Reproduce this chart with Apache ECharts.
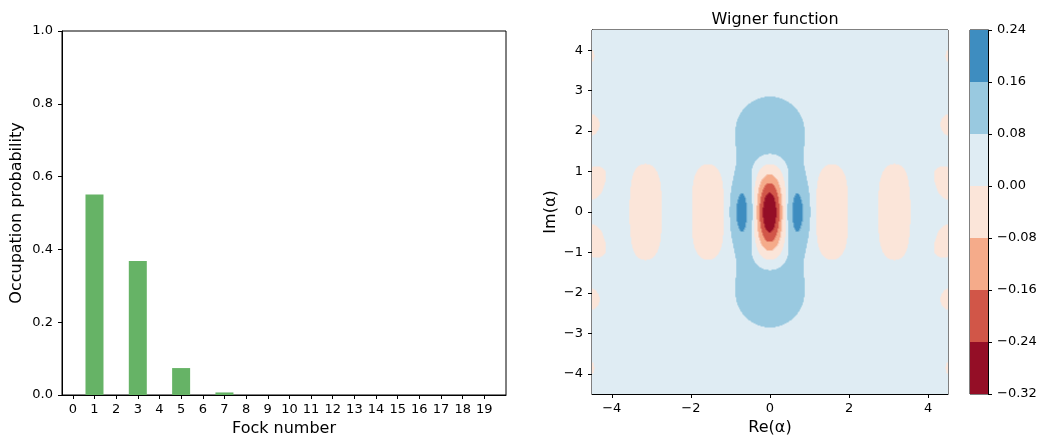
<!DOCTYPE html>
<html><head><meta charset="utf-8">
<script src="https://cdn.jsdelivr.net/npm/echarts@6/dist/echarts.min.js"></script>
<style>html,body{margin:0;padding:0;background:#fff}#c{width:1040px;height:436px}</style>
</head><body><div id="c"></div>
<script>
// ---------------- data ----------------
const fockNumbers = [0,1,2,3,4,5,6,7,8,9,10,11,12,13,14,15,16,17,18,19];
const occupation  = [0,0.551,0,0.368,0,0.074,0,0.007,0,0,0,0,0,0,0,0,0,0,0,0];
const probTicks   = [0,0.2,0.4,0.6,0.8,1.0];
const reTicks     = [-4,-2,0,2,4];
const imTicks     = [-4,-3,-2,-1,0,1,2,3,4];
const contourLevels = [-0.32,-0.24,-0.16,-0.08,0,0.08,0.16,0.24];
// state behind the Wigner plot: odd cat state, alpha = i*1.414, Hilbert space of 20 Fock levels
const hilbertDim = 20;
const catAlphaIm = 1.414;
const phaseRange = [-4.5, 4.5];

// ---------------- styles ----------------
const levelColors = ['#940e26','#d15648','#f5ab8a','#fbe5d9','#dfecf3','#99c9e0','#3e8dc0'];
const barColor = '#66b366';
const FONT = 'DejaVu Sans';

// ---------------- Wigner function of the state ----------------
function jacobiEigen(A){
  const n=A.length, a=A.map(r=>r.slice());
  const V=Array.from({length:n},(_,i)=>Array.from({length:n},(_,j)=>i===j?1:0));
  for(let sweep=0;sweep<80;sweep++){
    let off=0; for(let p=0;p<n;p++)for(let q=p+1;q<n;q++)off+=a[p][q]*a[p][q];
    if(off<1e-30)break;
    for(let p=0;p<n-1;p++)for(let q=p+1;q<n;q++){
      const apq=a[p][q]; if(Math.abs(apq)<1e-300)continue;
      const th=(a[q][q]-a[p][p])/(2*apq);
      const t=(th>=0?1:-1)/(Math.abs(th)+Math.sqrt(th*th+1));
      const c=1/Math.sqrt(t*t+1), s=t*c;
      for(let k=0;k<n;k++){const x=a[k][p],y=a[k][q];a[k][p]=c*x-s*y;a[k][q]=s*x+c*y;}
      for(let k=0;k<n;k++){const x=a[p][k],y=a[q][k];a[p][k]=c*x-s*y;a[q][k]=s*x+c*y;}
      for(let k=0;k<n;k++){const x=V[k][p],y=V[k][q];V[k][p]=c*x-s*y;V[k][q]=s*x+c*y;}
    }
  }
  return {values:a.map((r,i)=>r[i]),vectors:V};
}
const N=hilbertDim;
const Xop=Array.from({length:N},()=>new Array(N).fill(0));
for(let k=1;k<N;k++){Xop[k-1][k]=Math.sqrt(k);Xop[k][k-1]=Math.sqrt(k);}
const eig=jacobiEigen(Xop);
const amp=new Array(N).fill(0);
for(let n=0;n<N;n++)for(let k=0;k<N;k++)amp[n]+=eig.vectors[n][k]*eig.vectors[0][k]*Math.sin(catAlphaIm*eig.values[k]);
const nrm=Math.sqrt(amp.reduce((s,v)=>s+v*v,0));
for(let n=0;n<N;n++)amp[n]/=nrm;
const fact=[1];for(let i=1;i<=N;i++)fact[i]=fact[i-1]*i;
const coef=[];
for(let k=0;k<N;k++){coef[k]=[];for(let m=0;m+k<N;m++){const n=m+k;
  coef[k][m]=amp[m]*amp[n]*(m%2?-1:1)*Math.sqrt(fact[m]/fact[n])*(k?2:1);}}
function wigner(x,p){
  const ax=Math.SQRT2*x, ay=Math.SQRT2*p, B=2*(x*x+p*p);
  let zr=1,zi=0,s=0;
  for(let k=0;k<N;k++){
    const row=coef[k],M=N-k;
    let Lp=1,Lc=1+k-B,acc=row[0];
    if(M>1)acc+=row[1]*Lc;
    for(let m=1;m<M-1;m++){const Ln=((2*m+1+k-B)*Lc-(m+k)*Lp)/(m+1);Lp=Lc;Lc=Ln;acc+=row[m+1]*Ln;}
    s+=acc*zr;
    const nr=zr*ax-zi*ay; zi=zr*ay+zi*ax; zr=nr;
  }
  return s*Math.exp(-(x*x+p*p))/Math.PI;
}
function bandOf(w){
  for(let i=0;i<contourLevels.length-2;i++) if(w<=contourLevels[i+1]) return i;
  return contourLevels.length-2;
}
const BG=4, nx=356, ny=364;
const [pmin,pmax]=phaseRange, dx=(pmax-pmin)/nx, dy=(pmax-pmin)/ny;
const cells=[[pmin,pmax,pmin,pmax,BG,0]];
for(let j=0;j<ny;j++){
  const p=pmin+(j+0.5)*dy;
  let cur=-1,start=0;
  for(let i=0;i<=nx;i++){
    const b=i<nx?bandOf(wigner(pmin+(i+0.5)*dx,p)):-2;
    if(b!==cur){
      if(cur>=0&&cur!==BG)cells.push([pmin+start*dx,pmin+i*dx,p-dy/2,p+dy/2,cur,1]);
      cur=b;start=i;
    }
  }
}
const barCells=[];
for(let i=0;i<contourLevels.length-1;i++)barCells.push([contourLevels[i],contourLevels[i+1],i]);

// ---------------- chart ----------------
const minus=v=>{const r=Math.round(v*100)/100;return r<0?'\u2212'+Math.abs(r):String(r);};
const minus2=v=>{const r=Math.round(v*100)/100;return r<0?'\u2212'+Math.abs(r).toFixed(2):r.toFixed(2);};
const axisCommon={
  axisLine:{show:true,onZero:false,lineStyle:{color:'#000',width:1}},
  axisTick:{show:true,length:4,lineStyle:{color:'#000',width:1}},
  axisLabel:{color:'#000',fontSize:13,fontFamily:FONT,margin:8},
  splitLine:{show:false},
  nameTextStyle:{color:'#000',fontSize:16,fontFamily:FONT},
  nameLocation:'middle'
};
function ax(o){return Object.assign({},axisCommon,o,{
  axisTick:Object.assign({},axisCommon.axisTick,o.axisTick||{}),
  axisLabel:Object.assign({},axisCommon.axisLabel,o.axisLabel||{})});}
const gridCommon={show:true,borderColor:'#000',borderWidth:1,backgroundColor:'transparent',
  containLabel:false,outerBoundsMode:'none'};

const chart=echarts.init(document.getElementById('c'),null,{renderer:'canvas'});
chart.setOption({
  animation:false,
  backgroundColor:'#fff',
  title:{text:'Wigner function',left:770,top:7,textAlign:'center',
    textStyle:{color:'#000',fontSize:16,fontWeight:'normal',fontFamily:FONT}},
  grid:[
    Object.assign({left:62,top:31,width:444,height:364},gridCommon),
    Object.assign({left:592,top:30,width:356,height:364},gridCommon),
    Object.assign({left:970,top:30,width:18,height:364},gridCommon)
  ],
  xAxis:[
    ax({gridIndex:0,type:'value',min:-0.5,max:20,name:'Fock number',nameGap:25,
      axisTick:{customValues:fockNumbers},axisLabel:{customValues:fockNumbers}}),
    ax({gridIndex:1,type:'value',min:phaseRange[0],max:phaseRange[1],name:'Re(\u03b1)',nameGap:25,
      axisTick:{customValues:reTicks},axisLabel:{customValues:reTicks,formatter:minus}}),
    {gridIndex:2,type:'value',min:0,max:1,show:false}
  ],
  yAxis:[
    ax({gridIndex:0,type:'value',min:0,max:1,name:'Occupation probability',nameGap:37,
      axisTick:{customValues:probTicks},axisLabel:{customValues:probTicks,margin:9,formatter:v=>v.toFixed(1)}}),
    ax({gridIndex:1,type:'value',min:phaseRange[0],max:phaseRange[1],name:'Im(\u03b1)',nameGap:33,
      axisTick:{customValues:imTicks},axisLabel:{customValues:imTicks,margin:9,formatter:minus}}),
    ax({gridIndex:2,type:'value',position:'right',min:contourLevels[0],max:contourLevels[contourLevels.length-1],
      axisTick:{customValues:contourLevels},axisLabel:{customValues:contourLevels,margin:9,formatter:minus2}})
  ],
  series:[
    {type:'bar',xAxisIndex:0,yAxisIndex:0,barWidth:18,itemStyle:{color:barColor},
      data:fockNumbers.map((n,i)=>[n,occupation[i]]),silent:true},
    {type:'custom',xAxisIndex:1,yAxisIndex:1,silent:true,clip:true,progressive:0,
      encode:{x:[0,1],y:[2,3]},data:cells,
      renderItem:(params,api)=>{
        const a=api.coord([api.value(0),api.value(3)]), b=api.coord([api.value(1),api.value(2)]);
        const pad=api.value(5)?0.5:0;
        return {type:'rect',shape:{x:a[0]-pad,y:a[1]-pad,width:b[0]-a[0]+2*pad,height:b[1]-a[1]+2*pad},
          style:{fill:levelColors[api.value(4)],lineWidth:0}};
      }},
    {type:'custom',xAxisIndex:2,yAxisIndex:2,silent:true,
      encode:{y:[0,1]},data:barCells,
      renderItem:(params,api)=>{
        const a=api.coord([0,api.value(1)]), b=api.coord([1,api.value(0)]);
        return {type:'rect',shape:{x:a[0],y:a[1],width:b[0]-a[0],height:b[1]-a[1]},
          style:{fill:levelColors[api.value(2)],lineWidth:0}};
      }}
  ]
});
</script></body></html>
